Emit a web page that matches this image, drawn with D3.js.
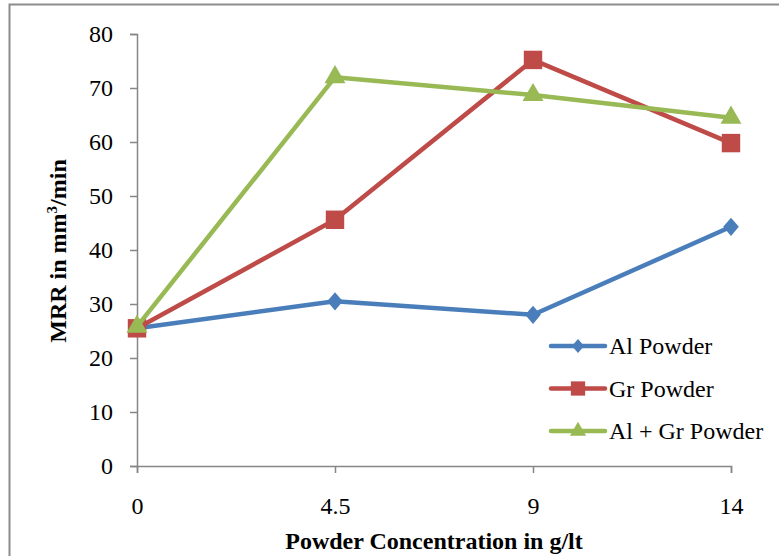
<!DOCTYPE html>
<html>
<head>
<meta charset="utf-8">
<script src="https://cdn.jsdelivr.net/npm/d3@7"></script>
<style>
  body { margin: 0; background: #fff; }
  .chart text { font-family: "Liberation Serif", "Times New Roman", serif; }
</style>
</head>
<body>
<div class="chart"></div>
<script>
// categories on the x axis (g/lt)
const concentrations = ['0', '4.5', '9', '14'];
const yTicks = [0, 10, 20, 30, 40, 50, 60, 70, 80];

// series values, MRR in mm3/min
const alPowder = [25.5, 30.5, 28.0, 44.3];
const grPowder = [25.5, 45.6, 75.2, 59.8];
const alGrPowder = [25.8, 72.0, 68.7, 64.5];

const seriesNames = ['Al Powder', 'Gr Powder', 'Al + Gr Powder'];
const seriesColors = ['#4A7EBB', '#BE4B48', '#98B954'];
const seriesValues = [alPowder, grPowder, alGrPowder];

// marker shapes: excel-like diamond (a bit wider than d3's), square, triangle
const excelDiamond = {
  draw(ctx, size) {
    const w = Math.sqrt(size) * 0.62, h = Math.sqrt(size) * 0.72;
    ctx.moveTo(0, -h); ctx.lineTo(w, 0); ctx.lineTo(0, h); ctx.lineTo(-w, 0); ctx.closePath();
  }
};
const seriesShapes = [excelDiamond, d3.symbolSquare, d3.symbolTriangle];
const symbolSizes = [160, 340, 190];

const width = 779, height = 556;
const svg = d3.select('.chart').append('svg').attr('width', width).attr('height', height);

// outer chart border
svg.append('rect')
  .attr('x', 9.5).attr('y', 4.5)
  .attr('width', width).attr('height', height)
  .attr('fill', 'none').attr('stroke', '#8c8c8c').attr('stroke-width', 2);

const plot = { left: 137, right: 731, top: 34, bottom: 466 };

const x = d3.scalePoint().domain(concentrations).range([plot.left, plot.right]);
const y = d3.scaleLinear().domain([0, 80]).range([plot.bottom, plot.top]);

// y axis
const yAxis = svg.append('g')
  .attr('transform', `translate(${plot.left},0)`)
  .call(d3.axisLeft(y).tickValues(yTicks).tickSize(7).tickPadding(17));
// x axis
const xAxis = svg.append('g')
  .attr('transform', `translate(0,${plot.bottom})`)
  .call(d3.axisBottom(x).tickSize(7).tickPadding(24));

[yAxis, xAxis].forEach(a => {
  a.attr('font-family', '"Liberation Serif", serif').attr('font-size', 24);
  a.select('.domain').attr('stroke', '#868686').attr('stroke-width', 1.5);
  a.selectAll('.tick line').attr('stroke', '#868686').attr('stroke-width', 1.5);
  a.selectAll('.tick text').attr('fill', '#000');
});

// axis titles
svg.append('text')
  .attr('x', 434).attr('y', 549)
  .attr('text-anchor', 'middle')
  .style('font-size', '24px').style('font-weight', 'bold')
  .text('Powder Concentration in g/lt');

const yTitle = svg.append('text')
  .attr('transform', `translate(66,251) rotate(-90)`)
  .attr('text-anchor', 'middle')
  .style('font-size', '24px').style('font-weight', 'bold');
yTitle.append('tspan').text('MRR in mm');
yTitle.append('tspan').attr('dy', -9).style('font-size', '15px').text('3');
yTitle.append('tspan').attr('dy', 9).text('/min');

const line = d3.line().x((d, i) => x(concentrations[i])).y(d => y(d));

seriesValues.forEach((vals, s) => {
  const g = svg.append('g');
  g.append('path')
    .datum(vals)
    .attr('d', line)
    .attr('fill', 'none')
    .attr('stroke', seriesColors[s])
    .attr('stroke-width', 4.5)
    .attr('stroke-linejoin', 'round');
  g.selectAll('path.marker')
    .data(vals)
    .join('path')
    .attr('class', 'marker')
    .attr('transform', (d, i) => `translate(${x(concentrations[i])},${y(d)})`)
    .attr('d', d3.symbol().type(seriesShapes[s]).size(symbolSizes[s]))
    .attr('fill', seriesColors[s]);
});

// legend
const legend = svg.append('g').attr('transform', 'translate(551,346)');
seriesNames.forEach((name, s) => {
  const row = legend.append('g').attr('transform', `translate(0,${s * 42.5})`);
  row.append('line')
    .attr('x1', 0).attr('x2', 54).attr('y1', 0).attr('y2', 0)
    .attr('stroke', seriesColors[s]).attr('stroke-width', 4.5).attr('stroke-linecap', 'round');
  row.append('path')
    .attr('transform', 'translate(27,0)')
    .attr('d', d3.symbol().type(seriesShapes[s]).size(symbolSizes[s] * 0.6))
    .attr('fill', seriesColors[s]);
  row.append('text')
    .attr('x', 58).attr('y', 8)
    .style('font-size', '24px')
    .text(name);
});
</script>
</body>
</html>
